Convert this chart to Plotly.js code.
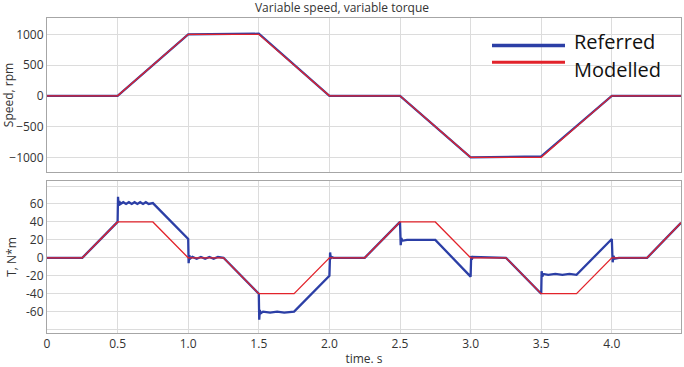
<!DOCTYPE html>
<html>
<head>
<meta charset="utf-8">
<script src="https://cdn.plot.ly/plotly-3.0.1.min.js"></script>
<style>html,body{margin:0;padding:0;background:#fff;}#chart{width:684px;height:367px;}</style>
</head>
<body>
<div id="chart"></div>
<script>
// Speed (rpm)
var speedTime = [0, 0.5, 1.0, 1.5, 2.0, 2.5, 3.0, 3.5, 4.0, 4.49];
var speedReferred = [0, 0, 1000, 1010, 0, 0, -1000, -985, 0, 0];
var speedModelled = [0, 0, 1000, 1000, 0, 0, -1000, -1000, 0, 0];

// Torque (N*m) - modelled
var torqueModTime = [0, 0.25, 0.5, 0.75, 1.0, 1.25, 1.5, 1.75, 2.0, 2.25, 2.5, 2.75, 3.0, 3.25, 3.5, 3.75, 4.0, 4.25, 4.49];
var torqueModelled = [0, 0, 40, 40, 0, 0, -40, -40, 0, 0, 40, 40, 0, 0, -40, -40, 0, 0, 39];

// Torque (N*m) - referred (with transients and ripple)
var torqueRefTime = [
  0, 0.25, 0.5, 0.503, 0.507, 0.512, 0.52, 0.54, 0.56, 0.58, 0.60, 0.62, 0.64, 0.66, 0.68, 0.70, 0.72, 0.75,
  1.0, 1.003, 1.008, 1.013, 1.03, 1.06, 1.09, 1.12, 1.15, 1.18, 1.21, 1.25,
  1.5, 1.503, 1.507, 1.512, 1.53, 1.58, 1.63, 1.68, 1.75,
  2.0, 2.005, 2.01, 2.016, 2.03, 2.25,
  2.5, 2.505, 2.51, 2.515, 2.55, 2.65, 2.75,
  3.0, 3.004, 3.008, 3.015, 3.25,
  3.5, 3.503, 3.508, 3.515, 3.55, 3.6, 3.65, 3.7, 3.75,
  4.0, 4.006, 4.012, 4.02, 4.05, 4.25, 4.49
];
var torqueReferred = [
  0, 0, 40, 68, 58, 63, 60, 62, 60, 62, 60, 62, 60, 62, 60, 62, 60, 61,
  21, -6, 3, -1, 1, -1, 1, -1, 1, -1, 1, 0,
  -40, -69, -58, -62, -60, -61, -60, -61, -60,
  -20, 6, -1, 1, 0, 0,
  40, 14, 22, 19, 20, 20, 20,
  -21, 2, -2, 1, 0,
  -40, -15, -21, -18, -19, -18, -19, -18, -19,
  21, -5, 2, -1, 0, 0, 39
];

var xTickVals = [0, 0.5, 1.0, 1.5, 2.0, 2.5, 3.0, 3.5, 4.0];
var xTickText = ['0', '0.5', '1.0', '1.5', '2.0', '2.5', '3.0', '3.5', '4.0'];
var speedTickVals = [-1000, -500, 0, 500, 1000];
var torqueTickVals = [-80, -60, -40, -20, 0, 20, 40, 60, 80];
var torqueTickText = ['', '-60', '-40', '-20', '0', '20', '40', '60', ''];
var seriesNames = ['Referred', 'Modelled'];

var BLUE = '#2c3fa6';
var RED = '#e2232b';
var FONT = 'Open Sans, sans-serif';

var traces = [
  {x: speedTime, y: speedReferred, xaxis: 'x', yaxis: 'y', mode: 'lines', name: seriesNames[0],
   line: {color: BLUE, width: 2.2}},
  {x: speedTime, y: speedModelled, xaxis: 'x', yaxis: 'y', mode: 'lines', name: seriesNames[1],
   line: {color: RED, width: 1.3}},
  {x: torqueRefTime, y: torqueReferred, xaxis: 'x2', yaxis: 'y2', mode: 'lines', name: seriesNames[0],
   line: {color: BLUE, width: 2.3}},
  {x: torqueModTime, y: torqueModelled, xaxis: 'x2', yaxis: 'y2', mode: 'lines', name: seriesNames[1],
   line: {color: RED, width: 1.3}}
];

var axisCommon = {
  showline: true, mirror: true, linecolor: '#a6a6a6', linewidth: 1,
  gridcolor: '#dcdcdc', gridwidth: 1, zeroline: false,
  tickfont: {family: FONT, size: 12, color: '#333'},
  ticks: '', fixedrange: true
};

// Legend drawn in paper coordinates (pixel positions converted for a 634x315 plot area)
function px(x) { return (x - 47) / 634; }
function py(y) { return (333 - y) / 315; }

var layout = {
  width: 684, height: 367,
  margin: {l: 47, r: 3, t: 18, b: 34},
  paper_bgcolor: '#fff', plot_bgcolor: '#fff',
  font: {family: FONT, size: 12, color: '#333'},
  title: {text: 'Variable speed, variable torque', x: 0.5, xanchor: 'center', y: 0.99, yanchor: 'top',
          font: {family: FONT, size: 12, color: '#333'}},
  showlegend: false,
  shapes: [
    {type: 'line', xref: 'paper', yref: 'paper', x0: px(492), x1: px(565), y0: py(45.5), y1: py(45.5),
     line: {color: BLUE, width: 3.5}},
    {type: 'line', xref: 'paper', yref: 'paper', x0: px(492), x1: px(565), y0: py(62.3), y1: py(62.3),
     line: {color: RED, width: 3}}
  ],
  annotations: [
    {xref: 'paper', yref: 'paper', x: px(572), y: py(42), xanchor: 'left', yanchor: 'middle',
     text: seriesNames[0], showarrow: false, font: {family: FONT, size: 20, color: '#111'}},
    {xref: 'paper', yref: 'paper', x: px(572), y: py(69), xanchor: 'left', yanchor: 'middle',
     text: seriesNames[1], showarrow: false, font: {family: FONT, size: 20, color: '#111'}}
  ],
  xaxis: Object.assign({}, axisCommon, {domain: [0, 1], range: [0, 4.49], anchor: 'y',
          tickvals: xTickVals, showticklabels: false}),
  yaxis: Object.assign({}, axisCommon, {domain: [0.511, 1], range: [-1239, 1265], anchor: 'x',
          tickvals: speedTickVals,
          title: {text: 'Speed, rpm', standoff: 6, font: {family: FONT, size: 12, color: '#333'}}}),
  xaxis2: Object.assign({}, axisCommon, {domain: [0, 1], range: [0, 4.49], anchor: 'y2',
          tickvals: xTickVals, ticktext: xTickText,
          title: {text: 'time. s', standoff: 4, font: {family: FONT, size: 12, color: '#333'}}}),
  yaxis2: Object.assign({}, axisCommon, {domain: [0, 0.4825], range: [-83.8, 85.6], anchor: 'x2',
          tickvals: torqueTickVals, ticktext: torqueTickText,
          title: {text: 'T, N*m', standoff: 6, font: {family: FONT, size: 12, color: '#333'}}})
};

Plotly.newPlot('chart', traces, layout, {displayModeBar: false, staticPlot: true});
</script>
</body>
</html>
